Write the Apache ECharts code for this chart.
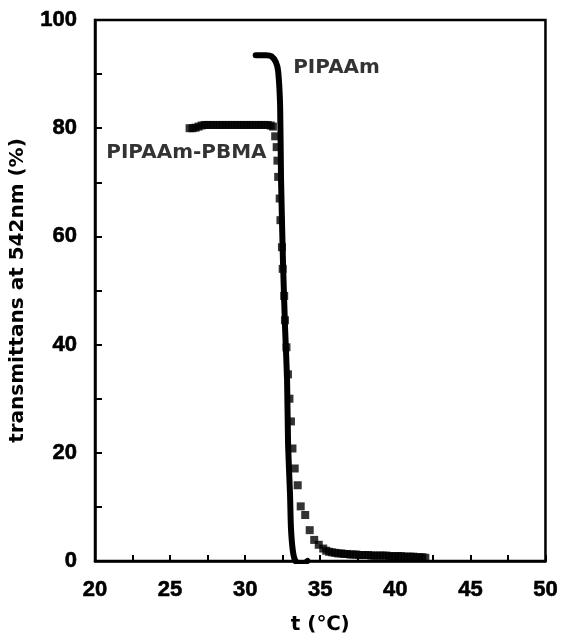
<!DOCTYPE html>
<html>
<head>
<meta charset="utf-8">
<script src="https://cdn.jsdelivr.net/npm/echarts@6/dist/echarts.min.js"></script>
<style>
  html, body { margin: 0; padding: 0; background: #fff; }
  #chart { width: 561px; height: 640px; }
</style>
</head>
<body>
<div id="chart"></div>
<script>
// Temperature (°C) and transmittance (%) of PIPAAm: a continuous curve
const pipaamT = [30.7, 31.0, 31.4, 31.75, 32.05, 32.2, 32.33, 32.39, 32.52, 32.66, 32.79, 32.86, 32.99, 33.05, 33.18, 33.35, 33.65, 33.95, 34.15];
const pipaamY = [93.5, 93.5, 93.5, 93.3, 92.2, 90.5, 84.0, 70.5, 55.2, 42.9, 33.7, 21.4, 12.2, 6.1, 1.8, 0.0, -0.6, -0.4, 0.0];

// PIPAAm-PBMA: individual measurement points (square markers)
const pbmaT = [26.3, 26.5, 26.7, 26.9, 27.1, 27.3, 27.5, 27.7, 27.9, 28.1, 28.3, 28.5, 28.7, 28.9, 29.1, 29.3, 29.5, 29.7, 29.9, 30.1, 30.3, 30.5, 30.7, 30.9, 31.1, 31.3, 31.5, 31.7, 31.85,
  32.0, 32.1, 32.15, 32.2, 32.3, 32.35, 32.45, 32.5, 32.6, 32.65, 32.75, 32.85, 32.95, 33.05, 33.15, 33.3, 33.5, 33.7, 34.0, 34.3, 34.6, 34.9, 35.2,
  35.4, 35.6, 35.8, 36.0, 36.2, 36.4, 36.6, 36.8, 37.0, 37.2, 37.4, 37.6, 37.8, 38.0, 38.2, 38.4, 38.6, 38.8, 39.0, 39.2, 39.4, 39.6, 39.8, 40.0,
  40.2, 40.4, 40.6, 40.8, 41.0, 41.2, 41.4, 41.6, 41.8, 42.0];
const pbmaY = [80.0, 80.0, 80.1, 80.3, 80.5, 80.6, 80.6, 80.6, 80.6, 80.6, 80.6, 80.6, 80.6, 80.6, 80.6, 80.6, 80.6, 80.6, 80.6, 80.6, 80.6, 80.6, 80.6, 80.6, 80.6, 80.6, 80.6, 80.5, 80.3,
  78.5, 76.5, 74.0, 71.0, 67.0, 63.0, 58.0, 54.0, 49.0, 44.5, 39.5, 34.5, 30.0, 25.8, 20.8, 17.1, 14.0, 10.1, 8.5, 5.7, 3.9, 3.0, 2.3,
  1.9, 1.7, 1.6, 1.5, 1.4, 1.4, 1.3, 1.3, 1.2, 1.2, 1.2, 1.1, 1.1, 1.1, 1.1, 1.0, 1.0, 1.0, 1.0, 1.0, 1.0, 0.9, 0.9, 0.9,
  0.9, 0.9, 0.8, 0.8, 0.8, 0.8, 0.7, 0.7, 0.7, 0.6];

// Axis ticks
const xTicks = [20, 25, 30, 35, 40, 45, 50];
const yTicks = [0, 20, 40, 60, 80, 100];

// Series captions and where they sit in data space
const labelPIPAAm = { text: 'PIPAAm', t: 33.2, y: 91.2 };
const labelPBMA = { text: 'PIPAAm-PBMA', t: 20.75, y: 75.4 };

const TICK_FONT = 'Liberation Sans';
const TEXT_FONT = 'DejaVu Sans';

const chart = echarts.init(document.getElementById('chart'), null, { renderer: 'canvas' });

const axisLabelStyle = {
  color: '#000', fontFamily: TICK_FONT, fontWeight: 'bold', fontSize: 22,
  textBorderColor: '#000', textBorderWidth: 0.6
};

chart.setOption({
  animation: false,
  backgroundColor: '#fff',
  grid: {
    left: 95, right: 11, top: 20, bottom: 77,
    show: true, borderColor: '#000', borderWidth: 2.5, backgroundColor: 'transparent'
  },
  xAxis: {
    type: 'value',
    min: xTicks[0], max: xTicks[xTicks.length - 1], interval: 5,
    name: 't (℃)', nameLocation: 'middle', nameGap: 54,
    nameTextStyle: { color: '#000', fontFamily: TEXT_FONT, fontWeight: 'bold', fontSize: 20 },
    axisLine: { show: true, lineStyle: { color: '#000', width: 2.5 } },
    axisTick: { show: true, inside: true, length: 6, lineStyle: { color: '#000', width: 2 } },
    minorTick: { show: true, splitNumber: 2, length: 6, lineStyle: { color: '#000', width: 2 } },
    axisLabel: Object.assign({ margin: 18 }, axisLabelStyle),
    splitLine: { show: false }
  },
  yAxis: {
    type: 'value',
    min: yTicks[0], max: yTicks[yTicks.length - 1], interval: 20,
    name: 'transmittans at 542nm (%)', nameLocation: 'middle', nameGap: 67,
    nameTextStyle: { color: '#000', fontFamily: TEXT_FONT, fontWeight: 'bold', fontSize: 20 },
    axisLine: { show: true, lineStyle: { color: '#000', width: 2.5 } },
    axisTick: { show: true, inside: true, length: 7, lineStyle: { color: '#000', width: 2 } },
    minorTick: { show: true, splitNumber: 2, length: 7, lineStyle: { color: '#000', width: 2 } },
    axisLabel: Object.assign({ margin: 18 }, axisLabelStyle),
    splitLine: { show: false }
  },
  series: [
    {
      name: 'PIPAAm',
      type: 'line',
      data: pipaamT.map((t, i) => [t, pipaamY[i]]),
      smooth: 0.2,
      showSymbol: false,
      lineStyle: { color: '#000', width: 6, cap: 'round', join: 'round' },
      z: 3
    },
    {
      name: 'PIPAAm-PBMA',
      type: 'scatter',
      data: pbmaT.map((t, i) => [t, pbmaY[i]]),
      symbol: 'rect',
      symbolSize: 8,
      itemStyle: { color: '#000' },
      z: 4
    },
    {
      type: 'scatter',
      silent: true,
      symbolSize: 0,
      data: [
        { value: [labelPIPAAm.t, labelPIPAAm.y], label: { show: true, formatter: labelPIPAAm.text, position: 'right', distance: 0 } },
        { value: [labelPBMA.t, labelPBMA.y], label: { show: true, formatter: labelPBMA.text, position: 'right', distance: 0 } }
      ],
      label: { color: '#000', fontFamily: TEXT_FONT, fontWeight: 'bold', fontSize: 20 },
      z: 5
    }
  ]
});
</script>
</body>
</html>
